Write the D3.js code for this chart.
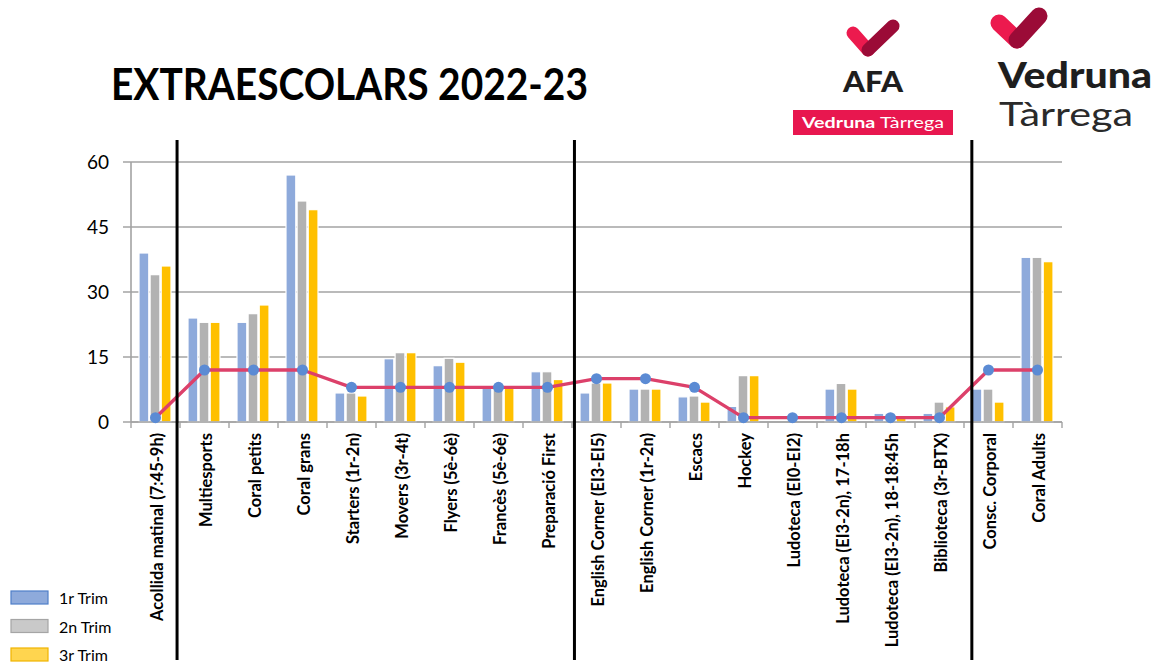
<!DOCTYPE html>
<html>
<head>
<meta charset="utf-8">
<script src="https://cdn.jsdelivr.net/npm/d3@7"></script>
<style>
  body { margin: 0; background: #fff; }
  svg { display: block; }
</style>
</head>
<body>
<div id="chart"></div>
<script>
var categories = ["Acollida matinal (7:45-9h)", "Multiesports", "Coral petits", "Coral grans",
  "Starters (1r-2n)", "Movers (3r-4t)", "Flyers (5è-6è)", "Francès (5è-6è)", "Preparació First",
  "English Corner (EI3-EI5)", "English Corner (1r-2n)", "Escacs", "Hockey", "Ludoteca (EI0-EI2)",
  "Ludoteca (EI3-2n), 17-18h", "Ludoteca (EI3-2n), 18-18:45h", "Biblioteca (3r-BTX)",
  "Consc. Corporal", "Coral Adults"];
var trim1 = [39, 24, 23, 57, 6.7, 14.6, 13, 8, 11.6, 6.7, 7.6, 5.8, 3.6, 0, 7.6, 2, 2, 7.6, 38];
var trim2 = [34, 23, 25, 51, 6.7, 16, 14.7, 8, 11.6, 9, 7.6, 6, 10.7, 0, 8.9, 2, 4.6, 7.6, 38];
var trim3 = [36, 23, 27, 49, 6, 16, 13.8, 8, 9.8, 9, 7.6, 4.6, 10.7, 0, 7.6, 1, 3.5, 4.6, 37];
var lineValues = [1, 12, 12, 12, 8, 8, 8, 8, 8, 10, 10, 8, 1, 1, 1, 1, 1, 12, 12];
var seriesNames = ["1r Trim", "2n Trim", "3r Trim"];
var yTicks = [0, 15, 30, 45, 60];
// separators between groups of activities, in category units
var dividers = [0.94, 9.05, 17.16];

var barColors = ["#8eaadb", "#b2b2b2", "#ffc000"];
var legendFill = ["#8eaadb", "#c9c9c9", "#ffd54f"];
var legendStroke = ["#4f7fc9", "#a5a5a5", "#f0b400"];

var width = 1161, height = 664;
var plotLeft = 131, plotRight = 1062, plotTop = 162, plotBottom = 422;

var svg = d3.select("#chart").append("svg")
    .attr("width", width)
    .attr("height", height)
    .style("font-family", "Lato, 'Open Sans', sans-serif");

var x = d3.scaleBand()
    .domain(categories)
    .range([plotLeft, plotRight]);

var x1 = d3.scaleBand()
    .domain(seriesNames)
    .range([8, x.bandwidth() - 9])
    .paddingInner(0.12);

var y = d3.scaleLinear()
    .domain([0, 60])
    .range([plotBottom, plotTop]);

// gridlines + y ticks
svg.append("g")
  .selectAll("line")
  .data(yTicks)
  .enter().append("line")
    .attr("x1", plotLeft - 8)
    .attr("x2", plotRight)
    .attr("y1", function(d) { return y(d); })
    .attr("y2", function(d) { return y(d); })
    .attr("stroke", "#a3a3a3")
    .attr("stroke-width", 1.6);

svg.append("g")
  .selectAll("text")
  .data(yTicks)
  .enter().append("text")
    .attr("x", 109)
    .attr("y", function(d) { return y(d); })
    .attr("dy", "0.36em")
    .attr("text-anchor", "end")
    .attr("font-size", "19px")
    .attr("fill", "#000")
    .text(function(d) { return d; });

// bars
var data = categories.map(function(c, i) {
  return { name: c, values: [trim1[i], trim2[i], trim3[i]] };
});

var groups = svg.append("g")
  .selectAll("g")
  .data(data)
  .enter().append("g")
    .attr("transform", function(d) { return "translate(" + x(d.name) + ",0)"; });

groups.selectAll("rect")
  .data(function(d) { return d.values.map(function(v, j) { return { s: seriesNames[j], v: v, j: j }; }); })
  .enter().append("rect")
    .filter(function(d) { return d.v > 0; })
    .attr("x", function(d) { return x1(d.s); })
    .attr("y", function(d) { return y(d.v); })
    .attr("width", x1.bandwidth())
    .attr("height", function(d) { return plotBottom - y(d.v); })
    .attr("fill", function(d) { return barColors[d.j]; })
    .attr("stroke", "#fff")
    .attr("stroke-width", 1.2);

// axes lines
svg.append("line")
    .attr("x1", plotLeft).attr("x2", plotLeft)
    .attr("y1", plotTop).attr("y2", plotBottom)
    .attr("stroke", "#a3a3a3").attr("stroke-width", 1.6);

svg.append("line")
    .attr("x1", plotLeft).attr("x2", plotRight)
    .attr("y1", plotBottom).attr("y2", plotBottom)
    .attr("stroke", "#a3a3a3").attr("stroke-width", 1.6);

var tickPos = categories.map(function(c) { return x(c); }).concat([plotRight]);
svg.append("g")
  .selectAll("line")
  .data(tickPos)
  .enter().append("line")
    .attr("x1", function(d) { return d; })
    .attr("x2", function(d) { return d; })
    .attr("y1", plotBottom)
    .attr("y2", plotBottom + 6)
    .attr("stroke", "#a3a3a3")
    .attr("stroke-width", 1.4);

// category labels
svg.append("g")
  .selectAll("text")
  .data(categories)
  .enter().append("text")
    .attr("transform", function(d) { return "translate(" + (x(d) + x.bandwidth() / 2 + 2) + "," + (plotBottom + 11) + ") rotate(-90)"; })
    .attr("dy", "0.35em")
    .attr("text-anchor", "end")
    .attr("font-size", "16.5px")
    .attr("font-weight", "bold")
    .attr("fill", "#000")
    .text(function(d) { return d; });

// line series
var line = d3.line()
    .x(function(d, i) { return x(categories[i]) + x.bandwidth() / 2; })
    .y(function(d) { return y(d); });

svg.append("path")
    .datum(lineValues)
    .attr("d", line)
    .attr("fill", "none")
    .attr("stroke", "#dc406a")
    .attr("stroke-width", 3.4)
    .attr("stroke-linejoin", "round");

svg.append("g")
  .selectAll("circle")
  .data(lineValues)
  .enter().append("circle")
    .attr("cx", function(d, i) { return x(categories[i]) + x.bandwidth() / 2; })
    .attr("cy", function(d) { return y(d); })
    .attr("r", 5.5)
    .attr("fill", "#5b8bd4");

// black separators
svg.append("g")
  .selectAll("line")
  .data(dividers)
  .enter().append("line")
    .attr("x1", function(d) { return plotLeft + d * x.step(); })
    .attr("x2", function(d) { return plotLeft + d * x.step(); })
    .attr("y1", 140)
    .attr("y2", 660)
    .attr("stroke", "#000")
    .attr("stroke-width", 3);

// legend
var legend = svg.append("g")
  .selectAll("g")
  .data(seriesNames)
  .enter().append("g")
    .attr("transform", function(d, i) { return "translate(11," + (591 + i * 28.5) + ")"; });

legend.append("rect")
    .attr("width", 37)
    .attr("height", 13)
    .attr("fill", function(d, i) { return legendFill[i]; })
    .attr("stroke", function(d, i) { return legendStroke[i]; })
    .attr("stroke-width", 1.2);

legend.append("text")
    .attr("x", 48)
    .attr("y", 13)
    .attr("font-size", "16px")
    .attr("fill", "#000")
    .text(function(d) { return d; });

// title
svg.append("text")
    .attr("x", 111)
    .attr("y", 100)
    .attr("font-size", "44px")
    .attr("font-weight", "bold")
    .attr("textLength", 477)
    .attr("lengthAdjust", "spacingAndGlyphs")
    .attr("fill", "#000")
    .text("EXTRAESCOLARS 2022-23");

// logos
function tick(g, pts, w) {
  g.append("line")
      .attr("x1", pts[0][0]).attr("y1", pts[0][1])
      .attr("x2", pts[1][0]).attr("y2", pts[1][1])
      .attr("stroke", "#ec1a4e").attr("stroke-width", w).attr("stroke-linecap", "round");
  g.append("line")
      .attr("x1", pts[1][0]).attr("y1", pts[1][1])
      .attr("x2", pts[2][0]).attr("y2", pts[2][1])
      .attr("stroke", "#9b0b37").attr("stroke-width", w).attr("stroke-linecap", "round");
}

var logo = svg.append("g");
tick(logo, [[853, 33], [868, 50], [893, 26]], 13);
tick(logo, [[999, 23], [1017, 40], [1039, 16]], 17);

logo.append("text")
    .attr("x", 843).attr("y", 92)
    .attr("font-size", "28px").attr("font-weight", "900")
    .attr("textLength", 60).attr("lengthAdjust", "spacingAndGlyphs")
    .attr("fill", "#1e1e1e")
    .text("AFA");

logo.append("rect")
    .attr("x", 793).attr("y", 110)
    .attr("width", 160).attr("height", 25)
    .attr("fill", "#e8174f");

var small = logo.append("text")
    .attr("x", 802).attr("y", 128)
    .attr("font-size", "16px")
    .attr("fill", "#fff")
    .attr("textLength", 142).attr("lengthAdjust", "spacingAndGlyphs");
small.append("tspan").attr("font-weight", "bold").text("Vedruna ");
small.append("tspan").text("Tàrrega");

logo.append("text")
    .attr("x", 998).attr("y", 88)
    .attr("font-size", "36px").attr("font-weight", "900")
    .attr("textLength", 154).attr("lengthAdjust", "spacingAndGlyphs")
    .attr("fill", "#1e1e1e")
    .text("Vedruna");

logo.append("text")
    .attr("x", 999).attr("y", 126)
    .attr("font-size", "32px")
    .attr("textLength", 134).attr("lengthAdjust", "spacingAndGlyphs")
    .attr("fill", "#2a2a2a")
    .text("Tàrrega");
</script>
</body>
</html>
